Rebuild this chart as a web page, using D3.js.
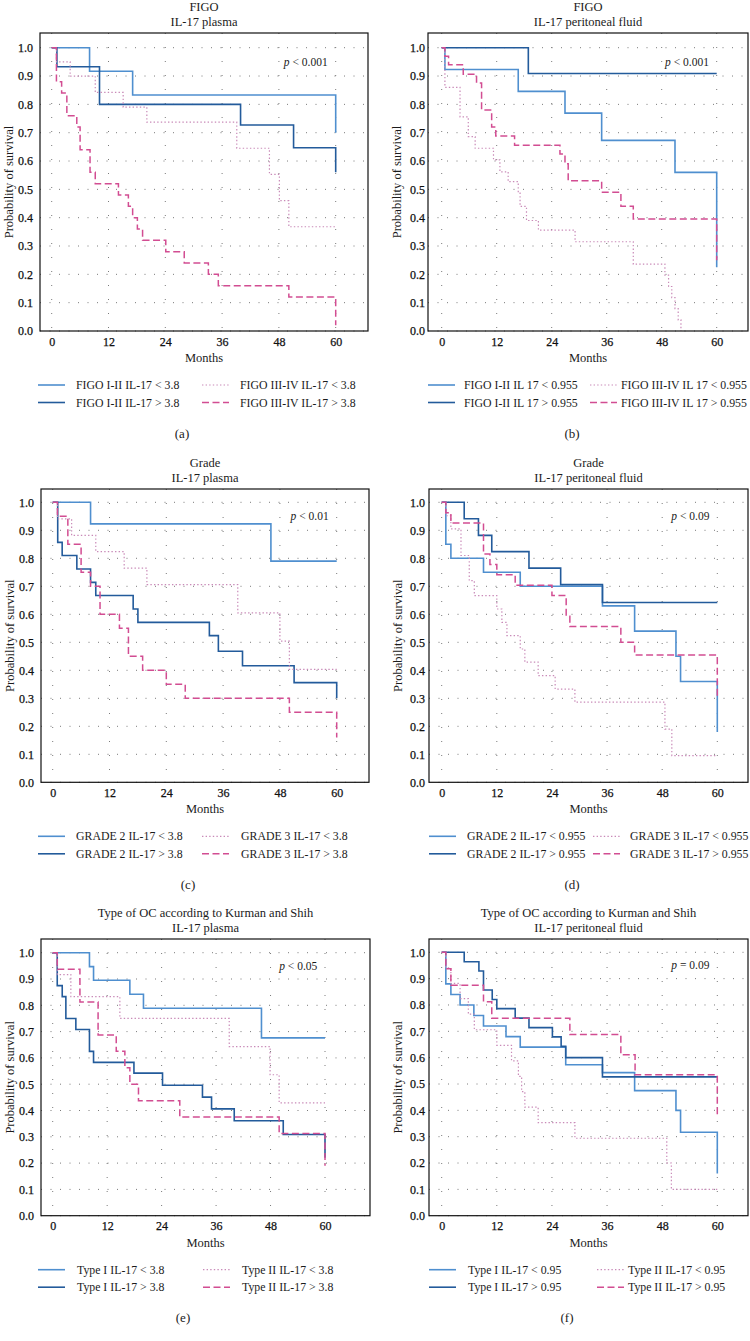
<!DOCTYPE html>
<html>
<head>
<meta charset="utf-8">
<script src="https://cdn.jsdelivr.net/npm/d3@7"></script>
<style>
  body { margin: 0; background: #fff; }
  svg text { font-family: "Liberation Serif", "DejaVu Serif", serif; fill: #1b1b1b; }
</style>
</head>
<body>
<div id="chart"></div>
<script>
const monthTicks = [0, 12, 24, 36, 48, 60];
const survTicks = [0, 0.1, 0.2, 0.3, 0.4, 0.5, 0.6, 0.7, 0.8, 0.9, 1.0];

// (a) FIGO, IL-17 plasma  -- [month, survival]
const figoPlasmaLowI = [[0,1],[8,0.917],[17.1,0.833],[60,0.70]];
const figoPlasmaHighI = [[0,1],[1.1,0.933],[10.1,0.80],[39.9,0.727],[51.1,0.647],[60,0.56]];
const figoPlasmaLowIII = [[0,1],[1,0.95],[3.9,0.90],[9.2,0.842],[15.1,0.79],[20.1,0.737],[39.1,0.645],[46,0.553],[48.1,0.46],[50.1,0.368],[60,0.368]];
const figoPlasmaHighIII = [[0,1],[1,0.88],[2.1,0.84],[3.2,0.76],[5.3,0.72],[6,0.64],[8.1,0.56],[9.2,0.52],[14.1,0.48],[16.2,0.44],[17.1,0.40],[18.1,0.36],[19.2,0.32],[24.1,0.28],[28,0.24],[33.1,0.20],[35.2,0.16],[50.1,0.12],[60,0.02]];

// (b) FIGO, IL-17 peritoneal fluid
const figoPfLowI = [[0,1],[0.7,0.923],[16.7,0.846],[26.9,0.769],[34.9,0.673],[50.9,0.56],[60,0.225]];
const figoPfHighI = [[0,1],[18.9,0.909],[60,0.909]];
const figoPfLowIII = [[0,1],[0.7,0.86],[4,0.756],[5.8,0.686],[7.3,0.645],[11.3,0.604],[12.7,0.562],[14.5,0.527],[16.7,0.49],[17.1,0.44],[18.5,0.39],[21.1,0.356],[29.1,0.315],[41.8,0.236],[48.7,0.197],[49.5,0.157],[50.2,0.118],[50.9,0.079],[51.6,0.039],[52.2,0]];
const figoPfHighIII = [[0,1],[0.7,0.97],[1.5,0.94],[4.7,0.906],[7.6,0.875],[8.7,0.78],[10.9,0.72],[11.8,0.688],[15.9,0.656],[25.8,0.625],[26.9,0.59],[27.6,0.53],[34.9,0.49],[39.1,0.44],[41.8,0.395],[60,0.25]];

// (c) Grade, IL-17 plasma
const gradePlasmaLow2 = [[0,1],[8,0.923],[46.1,0.79],[60,0.79]];
const gradePlasmaHigh2 = [[0,1],[1.06,0.857],[2,0.81],[5.1,0.762],[8,0.714],[9.1,0.667],[17,0.619],[18,0.571],[33.1,0.524],[35,0.468],[40.1,0.416],[51,0.356],[60,0.30]];
const gradePlasmaLow3 = [[0,1],[1,0.941],[4,0.882],[9.1,0.824],[15.1,0.765],[19.9,0.706],[39.1,0.605],[48,0.504],[50,0.403],[60,0.403]];
const gradePlasmaHigh3 = [[0,1],[1,0.95],[3.2,0.85],[6,0.75],[8,0.70],[10,0.60],[14.1,0.55],[16,0.45],[19,0.40],[24,0.35],[28,0.30],[50,0.25],[60,0.16]];

// (d) Grade, IL-17 peritoneal fluid
const gradePfLow2 = [[0,1],[0.9,0.85],[2,0.80],[9.1,0.75],[17.1,0.70],[35,0.63],[42,0.54],[51,0.45],[52,0.36],[60,0.18]];
const gradePfHigh2 = [[0,1],[4.9,0.941],[8,0.882],[10.9,0.824],[19,0.765],[25.9,0.706],[35,0.642],[60,0.642]];
const gradePfLow3 = [[0,1],[0.9,0.952],[2,0.905],[4.2,0.81],[6,0.72],[7.1,0.667],[12,0.619],[13.1,0.571],[14.2,0.524],[17.1,0.476],[18.1,0.429],[21,0.381],[24.7,0.333],[29,0.286],[48.6,0.19],[50.1,0.095],[60,0.095]];
const gradePfHigh3 = [[0,1],[0.9,0.963],[2,0.926],[9.1,0.815],[10.5,0.778],[12,0.741],[16,0.704],[24,0.667],[27.1,0.593],[27.9,0.556],[39,0.50],[42,0.455],[60,0.30]];

// (e) Type of OC, IL-17 plasma
const typePlasmaLowI = [[0,1],[8.1,0.947],[9,0.895],[17,0.842],[20,0.789],[46,0.676],[60,0.676]];
const typePlasmaHighI = [[0,1],[1,0.875],[2.1,0.833],[2.9,0.75],[5.1,0.708],[8.1,0.625],[9,0.583],[17.9,0.542],[24.2,0.496],[33,0.451],[35,0.406],[40,0.361],[50.8,0.309],[60,0.22]];
const typePlasmaLowII = [[0,1],[1,0.917],[4,0.833],[14.8,0.75],[38.9,0.643],[47.9,0.536],[49.9,0.429],[60,0.429]];
const typePlasmaHighII = [[0,1],[1,0.9375],[6,0.8125],[10,0.6875],[14,0.625],[15.9,0.5625],[17,0.50],[18.9,0.4375],[28,0.375],[49.9,0.3125],[60,0.19]];

// (f) Type of OC, IL-17 peritoneal fluid
const typePfLowI = [[0,1],[0.9,0.88],[2,0.84],[4,0.80],[7,0.76],[9.1,0.72],[14,0.68],[17.1,0.64],[27,0.573],[35,0.543],[42,0.475],[51,0.40],[52,0.317],[60,0.16]];
const typePfHighI = [[0,1],[4.9,0.964],[8.1,0.929],[9.1,0.857],[11,0.821],[12,0.786],[16,0.75],[19,0.714],[24.1,0.679],[26,0.643],[27,0.60],[35,0.527],[60,0.527]];
const typePfLowII = [[0,1],[0.9,0.941],[2,0.882],[4,0.824],[5.8,0.765],[7.1,0.706],[12,0.647],[15.2,0.588],[16.7,0.529],[17.4,0.471],[18.1,0.412],[21,0.353],[29,0.294],[49,0.20],[50,0.10],[60,0.10]];
const typePfHighII = [[0,1],[0.9,0.9375],[2,0.875],[9.1,0.8125],[10.9,0.75],[27.9,0.6875],[39,0.611],[42.1,0.535],[60,0.38]];

const legendA = ['FIGO I-II IL-17 < 3.8', 'FIGO I-II IL-17 > 3.8', 'FIGO III-IV IL-17 < 3.8', 'FIGO III-IV IL-17 > 3.8'];
const legendB = ['FIGO I-II IL 17 < 0.955', 'FIGO I-II IL 17 > 0.955', 'FIGO III-IV IL 17 < 0.955', 'FIGO III-IV IL 17 > 0.955'];
const legendC = ['GRADE 2 IL-17 < 3.8', 'GRADE 2 IL-17 > 3.8', 'GRADE 3 IL-17 < 3.8', 'GRADE 3 IL-17 > 3.8'];
const legendD = ['GRADE 2 IL-17 < 0.955', 'GRADE 2 IL-17 > 0.955', 'GRADE 3 IL-17 < 0.955', 'GRADE 3 IL-17 > 0.955'];
const legendE = ['Type I IL-17 < 3.8', 'Type I IL-17 > 3.8', 'Type II IL-17 < 3.8', 'Type II IL-17 > 3.8'];
const legendF = ['Type I IL-17 < 0.95', 'Type I IL-17 > 0.95', 'Type II IL-17 < 0.95', 'Type II IL-17 > 0.95'];

const titles = [
  ['FIGO', 'IL-17 plasma'], ['FIGO', 'IL-17 peritoneal fluid'],
  ['Grade', 'IL-17 plasma'], ['Grade', 'IL-17 peritoneal fluid'],
  ['Type of OC according to Kurman and Shih', 'IL-17 plasma'], ['Type of OC according to Kurman and Shih', 'IL-17 peritoneal fluid']
];
const pValues = ['< 0.001', '< 0.001', '< 0.01', '< 0.09', '< 0.05', '= 0.09'];
const panelLetters = ['(a)', '(b)', '(c)', '(d)', '(e)', '(f)'];

// layout of each panel: frame box, axis anchors, legend columns
const layouts = [
  { l: 40,  t: 33,  r: 368, x0: 51.7,  x60: 335.7, y0: 331,    y1: 47.7,  gap: 7, leg: [38, 76, 202, 240],  lab: 182 },
  { l: 428, t: 33,  r: 748, x0: 441.7, x60: 716.7, y0: 331,    y1: 47.7,  gap: 3, leg: [428, 464, 590, 621], lab: 572 },
  { l: 41,  t: 489, r: 369, x0: 52.7,  x60: 336.7, y0: 782.3,  y1: 502.3, gap: 7, leg: [38, 76, 202, 241],  lab: 188 },
  { l: 429, t: 489, r: 748, x0: 441.7, x60: 717.3, y0: 782.3,  y1: 502.3, gap: 4, leg: [429, 467, 593, 630], lab: 572 },
  { l: 41,  t: 939, r: 370, x0: 52.7,  x60: 325,   y0: 1215.7, y1: 952.7, gap: 7, leg: [38, 77, 203, 242],  lab: 183 },
  { l: 429, t: 939, r: 748, x0: 441.7, x60: 717.3, y0: 1215.7, y1: 952.3, gap: 4, leg: [429, 468, 597, 628], lab: 567 }
];

const panels = [
  { curves: [figoPlasmaLowI, figoPlasmaHighI, figoPlasmaLowIII, figoPlasmaHighIII], legend: legendA },
  { curves: [figoPfLowI, figoPfHighI, figoPfLowIII, figoPfHighIII], legend: legendB },
  { curves: [gradePlasmaLow2, gradePlasmaHigh2, gradePlasmaLow3, gradePlasmaHigh3], legend: legendC },
  { curves: [gradePfLow2, gradePfHigh2, gradePfLow3, gradePfHigh3], legend: legendD },
  { curves: [typePlasmaLowI, typePlasmaHighI, typePlasmaLowII, typePlasmaHighII], legend: legendE },
  { curves: [typePfLowI, typePfHighI, typePfLowII, typePfHighII], legend: legendF }
];

const styles = [
  { color: '#4f8fcf', width: 1.6, dash: null },
  { color: '#235b9b', width: 1.6, dash: null },
  { color: '#c98ab8', width: 1.2, dash: '1.4,2.2' },
  { color: '#d24d92', width: 1.5, dash: '7,3.5' }
];

const svg = d3.select('#chart').append('svg').attr('width', 750).attr('height', 1341);
svg.append('rect').attr('width', 750).attr('height', 1341).attr('fill', '#fff');

panels.forEach((p, i) => {
  const L = layouts[i];
  const b = L.y0; // frame bottom sits on survival 0
  const x = d3.scaleLinear().domain([0, 60]).range([L.x0, L.x60]);
  const y = d3.scaleLinear().domain([0, 1]).range([L.y0, L.y1]);
  const g = svg.append('g');
  const cx = (L.l + L.r) / 2;

  // titles
  g.append('text').attr('x', cx).attr('y', L.t - 22.5).attr('text-anchor', 'middle').attr('font-size', 12.5).text(titles[i][0]);
  g.append('text').attr('x', cx).attr('y', L.t - 7.5).attr('text-anchor', 'middle').attr('font-size', 12.5).text(titles[i][1]);

  // dotted grid
  g.append('g').selectAll('line').data(survTicks).join('line')
    .attr('x1', L.l).attr('x2', L.r).attr('y1', d => y(d)).attr('y2', d => y(d))
    .attr('stroke', '#7a7a7a').attr('stroke-width', 1).attr('stroke-dasharray', '1,8.5');
  g.append('g').selectAll('line').data(monthTicks).join('line')
    .attr('x1', d => x(d)).attr('x2', d => x(d)).attr('y1', L.t).attr('y2', b)
    .attr('stroke', '#7a7a7a').attr('stroke-width', 1).attr('stroke-dasharray', '1,13');

  // axes
  const ya = g.append('g').attr('transform', `translate(${L.l},0)`)
    .call(d3.axisLeft(y).tickValues(survTicks).tickFormat(d3.format('.1f')).tickSize(0).tickPadding(L.gap));
  const xa = g.append('g').attr('transform', `translate(0,${b})`)
    .call(d3.axisBottom(x).tickValues(monthTicks).tickSize(0).tickPadding(6));
  [ya, xa].forEach(a => {
    a.select('.domain').remove();
    a.selectAll('text').attr('font-size', 12).attr('font-family', '"Liberation Serif", serif')
      .attr('fill', '#000').attr('stroke', '#000').attr('stroke-width', 0.25);
  });

  g.append('text').attr('x', cx).attr('y', b + 31).attr('text-anchor', 'middle').attr('font-size', 12.5).text('Months');
  g.append('text').attr('transform', `translate(${L.l - 31},${(L.t + b) / 2}) rotate(-90)`)
    .attr('text-anchor', 'middle').attr('dy', '0.35em').attr('font-size', 12.5).text('Probability of survival');

  // curves
  const line = d3.line().x(d => x(d[0])).y(d => y(d[1])).curve(d3.curveStepAfter);
  p.curves.forEach((c, k) => {
    const s = styles[k];
    g.append('path').attr('d', line(c)).attr('fill', 'none')
      .attr('stroke', s.color).attr('stroke-width', s.width)
      .attr('stroke-dasharray', s.dash);
  });

  // p value
  const pt = g.append('text').attr('x', x(58.3)).attr('y', y(0.95)).attr('dy', '0.35em')
    .attr('text-anchor', 'end').attr('font-size', 11.5);
  pt.append('tspan').attr('font-style', 'italic').text('p');
  pt.append('tspan').text(' ' + pValues[i]);

  // frame
  g.append('rect').attr('x', L.l).attr('y', L.t).attr('width', L.r - L.l).attr('height', b - L.t)
    .attr('fill', 'none').attr('stroke', '#111').attr('stroke-width', 1.2);

  // legend
  p.legend.forEach((lab, k) => {
    const col = Math.floor(k / 2), row = k % 2;
    const ly = b + 54 + row * 17.5;
    const sx = L.leg[col * 2], tx = L.leg[col * 2 + 1];
    const s = styles[k];
    g.append('line').attr('x1', sx).attr('x2', sx + 27).attr('y1', ly).attr('y2', ly)
      .attr('stroke', s.color).attr('stroke-width', s.width).attr('stroke-dasharray', s.dash);
    g.append('text').attr('x', tx).attr('y', ly).attr('dy', '0.35em').attr('font-size', 11.8).text(lab);
  });

  g.append('text').attr('x', L.lab).attr('y', b + 102).attr('dy', '0.35em').attr('text-anchor', 'middle')
    .attr('font-size', 13).text(panelLetters[i]);
});
</script>
</body>
</html>
